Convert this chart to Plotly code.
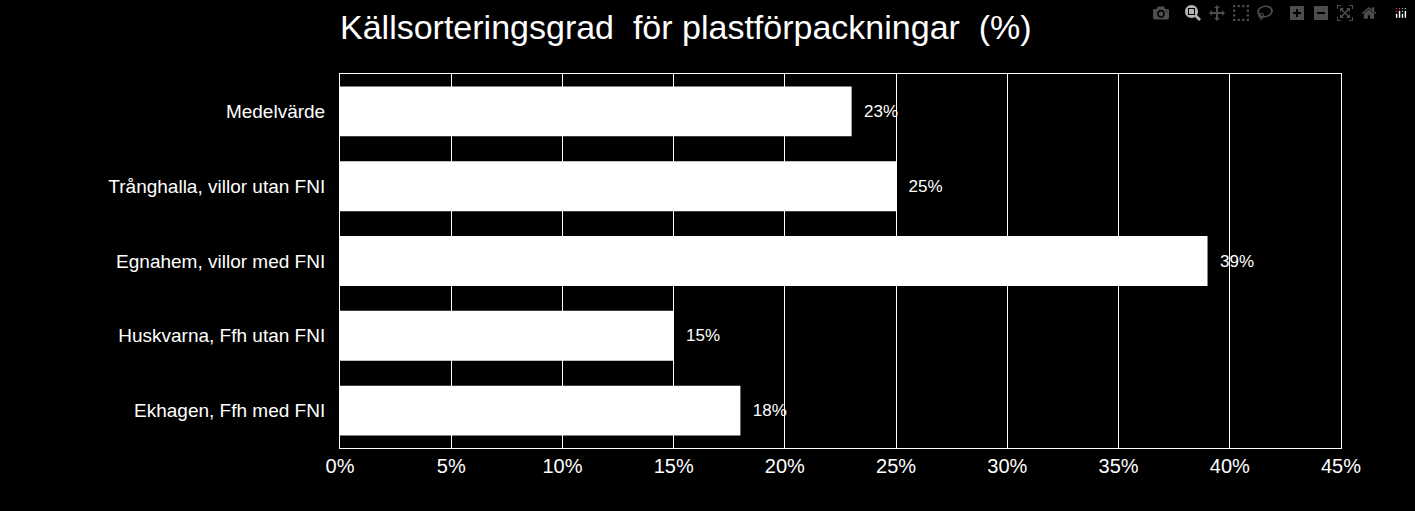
import plotly.graph_objects as go

categories = ["Medelvärde", "Trånghalla, villor utan FNI", "Egnahem, villor med FNI",
              "Huskvarna, Ffh utan FNI", "Ekhagen, Ffh med FNI"]
values = [23, 25, 39, 15, 18]
tick_vals = [0, 5, 10, 15, 20, 25, 30, 35, 40, 45]
tick_text = [f"{v}%" for v in tick_vals]

font = "Liberation Sans, Arial, sans-serif"
fig = go.Figure(go.Bar(
    y=categories, x=values, orientation="h", width=0.667,
    marker=dict(color="white", line=dict(width=0)),
    text=[f"  {v}%" for v in values], textposition="outside",
    textfont=dict(color="white", size=17, family=font), cliponaxis=False,
))
fig.update_layout(
    width=1415, height=511, paper_bgcolor="black", plot_bgcolor="black",
    margin=dict(l=340, r=74, t=74, b=63),
    title=dict(text="Källsorteringsgrad  för plastförpackningar  (%)", x=340/1415, xanchor="left",
               y=1-27/511, yanchor="middle", font=dict(color="white", size=34, family=font)),
    showlegend=False,
    xaxis=dict(range=[0, 45], tickvals=tick_vals, ticktext=tick_text, showgrid=True,
               gridcolor="white", gridwidth=1, zeroline=False, showline=True, linecolor="white",
               mirror=True, tickfont=dict(color="white", size=20, family=font), ticks=""),
    yaxis=dict(autorange="reversed", showline=True, linecolor="white", mirror=True,
               tickfont=dict(color="white", size=19, family=font), ticks="", ticklabelstandoff=10),
)
fig.write_html("out.html",
               post_script="document.body.style.margin='0';document.body.style.background='black';")
